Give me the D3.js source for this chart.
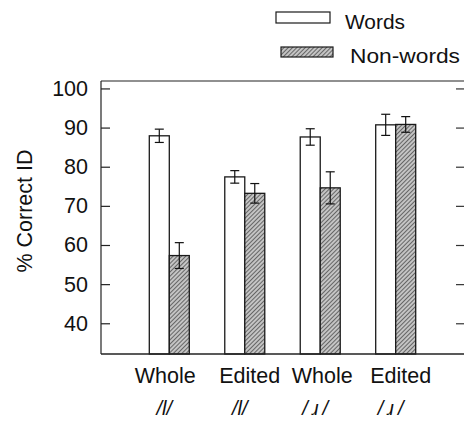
<!DOCTYPE html>
<html>
<head>
<meta charset="utf-8">
<script src="https://cdn.jsdelivr.net/npm/d3@7"></script>
<style>
  html, body { margin: 0; padding: 0; background: #fff; }
  svg { display: block; }
  text { font-family: "Liberation Sans", Arial, Helvetica, sans-serif; fill: #111; }
</style>
</head>
<body>
<svg id="chart" width="464" height="423"></svg>
<script>
// Conditions (two label rows), series and measured values
const conditions = ["Whole", "Edited", "Whole", "Edited"];
const segments = ["/l/", "/l/", "/\u2009\u0279\u2009/", "/\u2009\u0279\u2009/"];
const seriesNames = ["Words", "Non-words"];
const wordsMean = [87.9, 77.4, 87.6, 90.7];
const wordsErr = [1.7, 1.6, 2.1, 2.7];
const nonwordsMean = [57.3, 73.2, 74.6, 90.8];
const nonwordsErr = [3.3, 2.5, 4.1, 2.0];
const yTicks = [40, 50, 60, 70, 80, 90, 100];

const svg = d3.select("#chart");

// Diagonal hatching for the non-word bars
const defs = svg.append("defs");
const pat = defs.append("pattern")
  .attr("id", "hatch")
  .attr("patternUnits", "userSpaceOnUse")
  .attr("width", 3).attr("height", 3)
  .attr("patternTransform", "rotate(45)");
pat.append("rect").attr("width", 3).attr("height", 3).attr("fill", "#c4c4c4");
pat.append("line").attr("x1", 0).attr("y1", 0).attr("x2", 0).attr("y2", 3)
  .attr("stroke", "#333").attr("stroke-width", 1.3);

const plot = { left: 101, right: 464, top: 81, bottom: 354 };

const y = d3.scaleLinear().domain([32.15, 101.9]).range([plot.bottom, plot.top]);
const x0 = d3.scaleBand().domain(d3.range(conditions.length))
  .range([plot.left, plot.right]).paddingInner(0).paddingOuter(0.405);
const x1 = d3.scaleBand().domain(seriesNames).range([-20, 20]);

const rows = conditions.map((c, i) => ([
  { s: "Words", i, v: wordsMean[i], e: wordsErr[i] },
  { s: "Non-words", i, v: nonwordsMean[i], e: nonwordsErr[i] }
])).flat();

const groupCenter = i => x0(i) + x0.bandwidth() / 2;

// Frame: top line
svg.append("line").attr("x1", plot.left).attr("x2", plot.right)
  .attr("y1", plot.top).attr("y2", plot.top)
  .attr("stroke", "#222").attr("stroke-width", 1.2);

// Bars
svg.append("g").selectAll("rect").data(rows).join("rect")
  .attr("x", d => groupCenter(d.i) + x1(d.s))
  .attr("y", d => y(d.v))
  .attr("width", x1.bandwidth())
  .attr("height", d => plot.bottom - y(d.v))
  .attr("fill", d => d.s === "Words" ? "#fff" : "url(#hatch)")
  .attr("stroke", "#1a1a1a").attr("stroke-width", 1.3);

// Error bars
const eb = svg.append("g").attr("stroke", "#111").attr("stroke-width", 1.2);
rows.forEach(d => {
  const cx = groupCenter(d.i) + x1(d.s) + x1.bandwidth() / 2;
  eb.append("line").attr("x1", cx).attr("x2", cx).attr("y1", y(d.v + d.e)).attr("y2", y(d.v - d.e));
  eb.append("line").attr("x1", cx - 4.5).attr("x2", cx + 4.5).attr("y1", y(d.v + d.e)).attr("y2", y(d.v + d.e));
  eb.append("line").attr("x1", cx - 4.5).attr("x2", cx + 4.5).attr("y1", y(d.v - d.e)).attr("y2", y(d.v - d.e));
});

// Bottom line drawn over the bar bases
svg.append("line").attr("x1", plot.left).attr("x2", plot.right)
  .attr("y1", plot.bottom).attr("y2", plot.bottom)
  .attr("stroke", "#222").attr("stroke-width", 1.4);

// Left axis, ticks pointing inward
const yAxisL = svg.append("g").attr("transform", `translate(${plot.left},0)`)
  .call(d3.axisLeft(y).tickValues(yTicks).tickSizeInner(-9).tickSizeOuter(0).tickPadding(13));
yAxisL.select(".domain").attr("d", `M0,${plot.top}V${plot.bottom}`).attr("stroke", "#222").attr("stroke-width", 1.2);
yAxisL.selectAll(".tick line").attr("stroke", "#222").attr("stroke-width", 1.2);
yAxisL.selectAll(".tick text")
  .style("font-family", "'Liberation Sans', Arial, sans-serif")
  .attr("font-size", 21.5).attr("fill", "#111");

// Right axis: inward ticks only, at the window edge
const yAxisR = svg.append("g").attr("transform", `translate(${plot.right},0)`)
  .call(d3.axisRight(y).tickValues(yTicks).tickSizeInner(-8).tickSizeOuter(0).tickFormat(""));
yAxisR.select(".domain").remove();
yAxisR.selectAll(".tick line").attr("stroke", "#333").attr("stroke-width", 1.2);

// Y axis title
svg.append("text")
  .attr("transform", "translate(32,211) rotate(-90)")
  .attr("text-anchor", "middle")
  .attr("font-size", 21.5)
  .text("% Correct ID");

// Category labels, two rows
const labelOffset = [-4, 5, 2, 5];
svg.append("g").selectAll("text").data(conditions).join("text")
  .attr("x", (d, i) => groupCenter(i) + labelOffset[i])
  .attr("y", 383)
  .attr("text-anchor", "middle")
  .attr("font-size", 21.5)
  .text(d => d);

svg.append("g").selectAll("text").data(segments).join("text")
  .attr("x", (d, i) => groupCenter(i) - 5)
  .attr("y", 415)
  .attr("text-anchor", "middle")
  .attr("font-size", 20)
  .attr("font-style", "italic")
  .text(d => d);

// Legend
const legend = svg.append("g");
const legendItems = [
  { name: seriesNames[0], fill: "#fff", x: 276, y: 12, w: 54, h: 11, tx: 345, ty: 29, len: 60 },
  { name: seriesNames[1], fill: "url(#hatch)", x: 281, y: 47, w: 52, h: 10, tx: 350, ty: 63, len: 110 }
];
legendItems.forEach(d => {
  legend.append("rect").attr("x", d.x).attr("y", d.y).attr("width", d.w).attr("height", d.h)
    .attr("fill", d.fill).attr("stroke", "#1a1a1a").attr("stroke-width", 1.2);
  legend.append("text").attr("x", d.tx).attr("y", d.ty).attr("font-size", 21)
    .attr("textLength", d.len).attr("lengthAdjust", "spacingAndGlyphs").text(d.name);
});
</script>
</body>
</html>
